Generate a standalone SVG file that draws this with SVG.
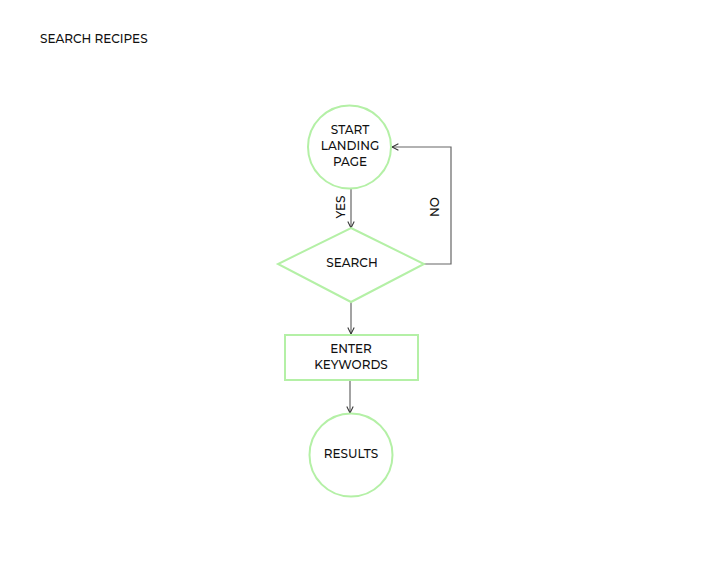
<svg xmlns="http://www.w3.org/2000/svg" width="720" height="576" viewBox="0 0 720 576">
<defs>
<style>
.node{fill:#fff;stroke:#b4f0a6;stroke-width:2}
.t{font-family:Montserrat,"Open Sans","Liberation Sans",sans-serif;font-size:12px;font-weight:500;fill:#111;text-anchor:middle}
.c{fill:none;stroke:#666;stroke-width:1.2}
</style>
<marker id="ah" viewBox="0 0 10 10" refX="9" refY="5" markerWidth="8" markerHeight="8" orient="auto" markerUnits="userSpaceOnUse">
<path d="M1,1 L9,5 L1,9" fill="none" stroke="#333" stroke-width="1.3"/>
</marker>
</defs>
<rect width="720" height="576" fill="#fff"/>
<text class="t" x="40" y="43" style="text-anchor:start">SEARCH RECIPES</text>
<g id="connectors">
<path class="c" d="M351,189 L351,228" marker-end="url(#ah)"/>
<path class="c" d="M424,264 L451,264 L451,147 L392,147" marker-end="url(#ah)"/>
<path class="c" d="M351,302 L351,334" marker-end="url(#ah)"/>
<path class="c" d="M350,380 L350,413" marker-end="url(#ah)"/>
<text class="t" transform="translate(345,207) rotate(-90)">YES</text>
<text class="t" transform="translate(439,207) rotate(-90)">NO</text>
</g>
<g id="start">
<circle class="node" cx="349.5" cy="147" r="41.5"/>
<text class="t" x="350" y="134">START</text>
<text class="t" x="350" y="150">LANDING</text>
<text class="t" x="350" y="166">PAGE</text>
</g>
<g id="search">
<polygon class="node" points="351,228 424,264 351,302 278,264"/>
<text class="t" x="352" y="267">SEARCH</text>
</g>
<g id="enter">
<rect class="node" x="285" y="335" width="133" height="45"/>
<text class="t" x="351" y="353">ENTER</text>
<text class="t" x="351" y="369">KEYWORDS</text>
</g>
<g id="results">
<circle class="node" cx="351" cy="455" r="41.5"/>
<text class="t" x="351" y="458">RESULTS</text>
</g>
</svg>
